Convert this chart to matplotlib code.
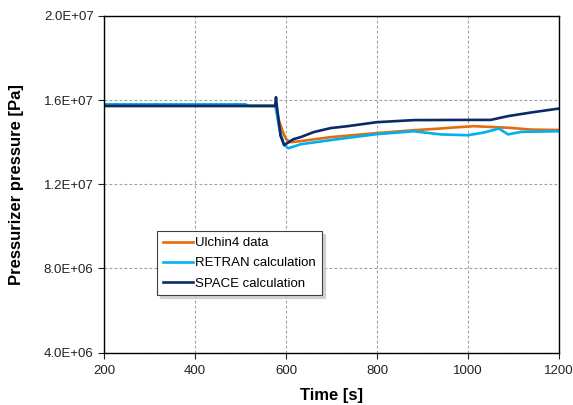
import matplotlib.pyplot as plt
from matplotlib.ticker import FuncFormatter

plt.rcParams['font.family'] = ['Liberation Sans', 'DejaVu Sans']

# Ulchin4 plant data
t_plant = [200, 575, 578, 585, 593, 600, 610, 632, 698, 799, 881, 940, 969, 1013, 1044, 1094, 1138, 1200]
p_plant = [1.5725e7, 1.5725e7, 1.56e7, 1.50e7, 1.45e7, 1.415e7, 1.40e7, 1.405e7, 1.424e7, 1.443e7,
           1.457e7, 1.465e7, 1.47e7, 1.476e7, 1.473e7, 1.468e7, 1.46e7, 1.458e7]

# RETRAN calculation
t_retran = [200, 510, 520, 575, 577, 585, 595, 605, 632, 698, 799, 881, 896, 940, 999, 1035, 1068, 1088, 1116, 1200]
p_retran = [1.58e7, 1.58e7, 1.5725e7, 1.5725e7, 1.57e7, 1.47e7, 1.39e7, 1.371e7, 1.39e7, 1.41e7, 1.438e7,
            1.452e7, 1.448e7, 1.437e7, 1.433e7, 1.446e7, 1.465e7, 1.437e7, 1.449e7, 1.452e7]

# SPACE calculation
t_space = [200, 576, 578, 580, 588, 596, 616, 632, 661, 698, 735, 799, 881, 995, 1050, 1088, 1138, 1200]
p_space = [1.5725e7, 1.5725e7, 1.614e7, 1.57e7, 1.43e7, 1.386e7, 1.414e7, 1.424e7, 1.448e7, 1.467e7,
           1.476e7, 1.495e7, 1.505e7, 1.506e7, 1.506e7, 1.524e7, 1.541e7, 1.56e7]

fig = plt.figure(figsize=(5.73, 4.05), dpi=100)
ax = fig.add_axes([0.1815, 0.1296, 0.7941, 0.8309])

ax.plot(t_plant, p_plant, color="#E46C0A", lw=1.9, label="Ulchin4 data")
ax.plot(t_retran, p_retran, color="#00B0F0", lw=1.9, label="RETRAN calculation")
ax.plot(t_space, p_space, color="#0C2A66", lw=1.9, label="SPACE calculation")

ax.set_xlim(200, 1200)
ax.set_ylim(4.0e6, 2.0e7)
ax.set_xticks(range(200, 1201, 200))
ax.set_yticks([4.0e6, 8.0e6, 1.2e7, 1.6e7, 2.0e7])
ax.yaxis.set_major_formatter(FuncFormatter(lambda v, pos: f"{v:.1E}"))
ax.tick_params(labelsize=9.5, length=4, width=0.8, colors="#222222")
ax.tick_params(axis="x", pad=5)
ax.grid(True, color="#A0A0A0", linestyle=(0, (2.5, 2)), linewidth=0.8)
for s in ax.spines.values():
    s.set_linewidth(1.0)
    s.set_color("black")

ax.set_xlabel("Time [s]", fontsize=12, fontweight="bold", labelpad=8)
ax.set_ylabel("Pressurizer pressure [Pa]", fontsize=12, fontweight="bold", labelpad=14)

leg = ax.legend(loc="upper left", bbox_to_anchor=(0.1165, 0.361), fontsize=9.5, frameon=True,
                fancybox=False, shadow={"color": "#C8C8C8", "alpha": 0.8}, edgecolor="#404040",
                handlelength=2.3, handletextpad=0.15, borderpad=0.45, labelspacing=0.6,
                borderaxespad=0)
leg.get_frame().set_linewidth(0.8)

fig.savefig("out.png", dpi=100)
